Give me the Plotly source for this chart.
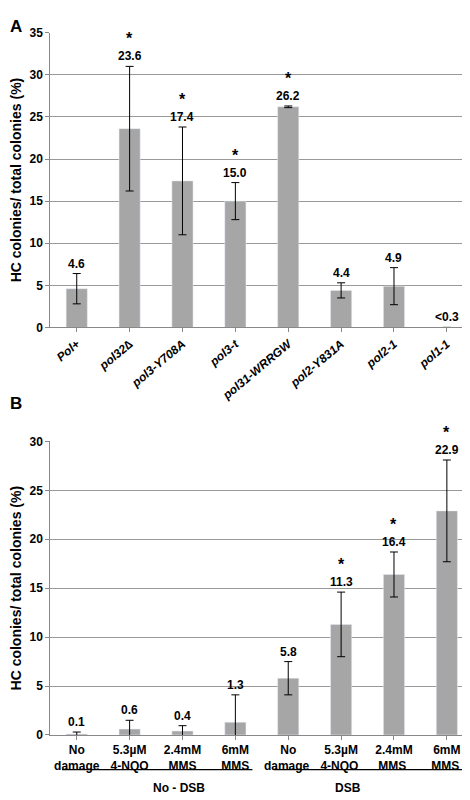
import plotly.graph_objects as go

# panel A
cat_a = ["Pol+", "pol32∆", "pol3-Y708A", "pol3-t", "pol31-WRRGW", "pol2-Y831A", "pol2-1", "pol1-1"]
val_a = [4.6, 23.6, 17.4, 15.0, 26.2, 4.4, 4.9, 0]
err_a = [1.8, 7.4, 6.4, 2.2, 0.1, 0.9, 2.2, 0]
lab_a = ["4.6", "23.6", "17.4", "15.0", "26.2", "4.4", "4.9", "<0.3"]
star_a = [False, True, True, True, True, False, False, False]

# panel B
cat_b = ["No<br>damage", "5.3µM<br>4-NQO", "2.4mM<br>MMS", "6mM<br>MMS",
         "No<br>damage ", "5.3µM<br>4-NQO ", "2.4mM<br>MMS ", "6mM<br>MMS "]
val_b = [0.1, 0.6, 0.4, 1.3, 5.8, 11.3, 16.4, 22.9]
err_b = [0.2, 0.9, 0.55, 2.8, 1.7, 3.3, 2.3, 5.2]
star_b = [False, False, False, False, False, True, True, True]
groups_b = ["No - DSB", "DSB"]

BAR = "#a6a6a6"
FONT = "Liberation Sans"

fig = go.Figure()
fig.add_trace(go.Bar(x=cat_a, y=val_a, marker_color=BAR, width=0.4,
                     error_y=dict(type="data", array=err_a, color="black", thickness=1, width=4),
                     xaxis="x", yaxis="y"))
fig.add_trace(go.Bar(x=cat_b, y=val_b, marker_color=BAR, width=0.4,
                     error_y=dict(type="data", array=err_b, color="black", thickness=1, width=4),
                     xaxis="x2", yaxis="y2"))

ann = []
for c, v, e, t, s in zip(cat_a, val_a, err_a, lab_a, star_a):
    ann.append(dict(x=c, y=v + e, xref="x", yref="y", text=f"<b>{t}</b>", showarrow=False,
                    yanchor="bottom", yshift=1, font=dict(size=12)))
    if s:
        ann.append(dict(x=c, y=v + e, xref="x", yref="y", text="<b>*</b>", showarrow=False,
                        yanchor="bottom", yshift=17, font=dict(size=16)))
for c, v, e, s in zip(cat_b, val_b, err_b, star_b):
    ann.append(dict(x=c, y=v + e, xref="x2", yref="y2", text=f"<b>{v:.1f}</b>", showarrow=False,
                    yanchor="bottom", yshift=1, font=dict(size=12)))
    if s:
        ann.append(dict(x=c, y=v + e, xref="x2", yref="y2", text="<b>*</b>", showarrow=False,
                        yanchor="bottom", yshift=17, font=dict(size=16)))
ann += [
    dict(x=0.0, y=1.0, xref="paper", yref="paper", text="<b>A</b>", showarrow=False,
         xanchor="left", yanchor="top", font=dict(size=17)),
    dict(x=0.0, y=0.52, xref="paper", yref="paper", text="<b>B</b>", showarrow=False,
         xanchor="left", yanchor="top", font=dict(size=17)),
    dict(x=0.305, y=0.005, xref="paper", yref="paper", text=f"<b>{groups_b[0]}</b>", showarrow=False,
         yanchor="bottom", font=dict(size=12)),
    dict(x=0.755, y=0.005, xref="paper", yref="paper", text=f"<b>{groups_b[1]}</b>", showarrow=False,
         yanchor="bottom", font=dict(size=12)),
]

shapes = [
    dict(type="line", xref="paper", yref="paper", x0=0.115, x1=0.52, y0=0.04, y1=0.04,
         line=dict(color="black", width=1.2)),
    dict(type="line", xref="paper", yref="paper", x0=0.565, x1=0.98, y0=0.04, y1=0.04,
         line=dict(color="black", width=1.2)),
]

ax_common = dict(showline=True, linecolor="#888", ticks="outside", ticklen=4, tickcolor="#888",
                 tickfont=dict(size=12, color="black"))
fig.update_layout(
    width=470, height=800, showlegend=False, plot_bgcolor="white", paper_bgcolor="white",
    font=dict(family=FONT, color="black"),
    margin=dict(l=0, r=0, t=0, b=0),
    annotations=ann, shapes=shapes, bargap=0.5,
    xaxis=dict(domain=[0.09, 0.99], anchor="y", tickangle=-40, tickprefix="<b><i>", ticksuffix="</i></b>", **ax_common),
    yaxis=dict(domain=[0.6025, 0.9775], range=[0, 35], dtick=5, anchor="x", gridcolor="#999",
               title=dict(text="<b>HC colonies/ total colonies (%)</b>", font=dict(size=14), standoff=6),
               tickprefix="<b>", ticksuffix="</b>", **ax_common),
    xaxis2=dict(domain=[0.09, 0.99], anchor="y2", tickangle=0, tickprefix="<b>", ticksuffix="</b>", **ax_common),
    yaxis2=dict(domain=[0.084, 0.4575], range=[0, 30], dtick=5, anchor="x2", gridcolor="#999",
                title=dict(text="<b>HC colonies/ total colonies (%)</b>", font=dict(size=14), standoff=6),
                tickprefix="<b>", ticksuffix="</b>", **ax_common),
)

fig.write_html("out.html")
